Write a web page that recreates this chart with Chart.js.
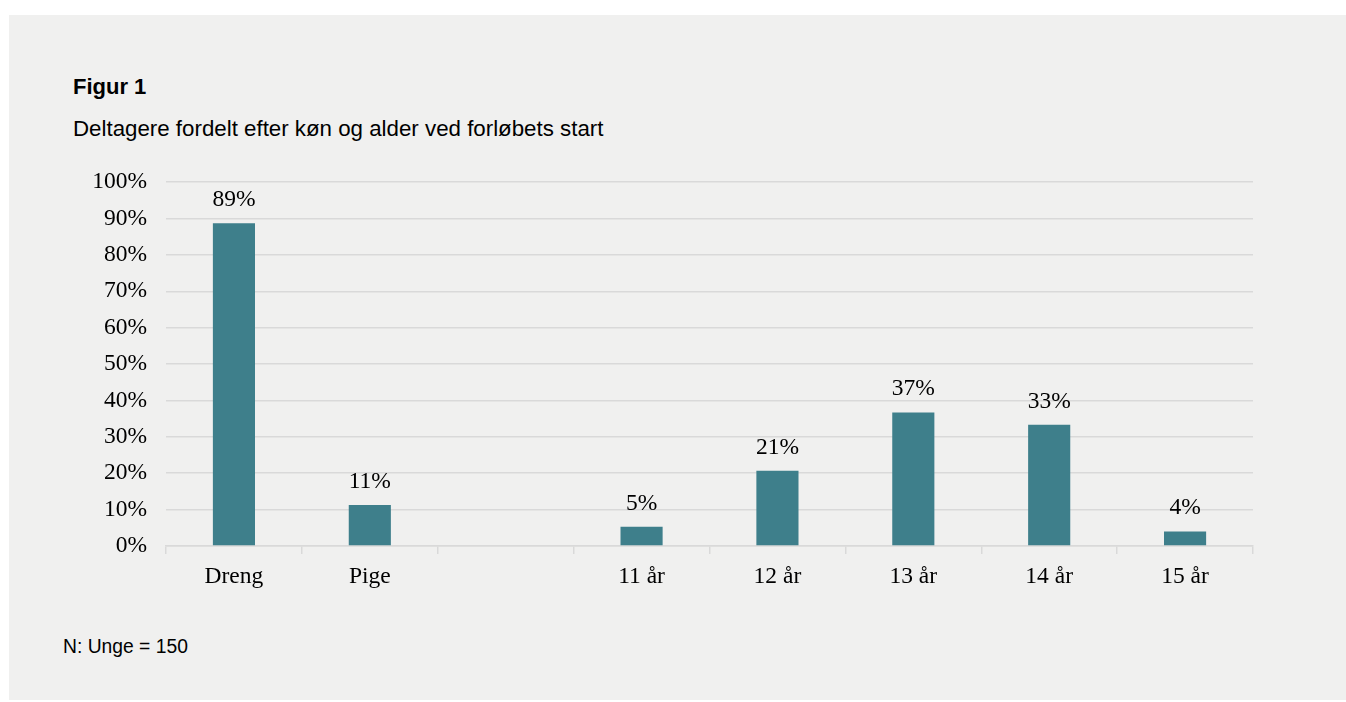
<!DOCTYPE html>
<html>
<head>
<meta charset="utf-8">
<script src="https://cdn.jsdelivr.net/npm/chart.js@4"></script>
<style>
  html, body { margin: 0; padding: 0; background: #ffffff; }
  #panel { position: absolute; left: 9px; top: 15px; width: 1337px; height: 685px; background: #f0f0ef; }
  .txt { position: absolute; font-family: "Liberation Sans", Arial, sans-serif; color: #000; white-space: nowrap; }
  #title { left: 64px; top: 59px; font-size: 22px; font-weight: bold; }
  #subtitle { left: 64px; top: 101px; font-size: 22.3px; }
  #note { left: 54px; top: 621px; font-size: 19.3px; }
  #wrap { position: absolute; left: 0px; top: 134px; width: 1300px; height: 450px; }
</style>
</head>
<body>
<div id="panel">
  <div class="txt" id="title">Figur 1</div>
  <div class="txt" id="subtitle">Deltagere fordelt efter køn og alder ved forløbets start</div>
  <div id="wrap"><canvas id="chart"></canvas></div>
  <div class="txt" id="note">N: Unge = 150</div>
</div>
<script>
"use strict";

// data (share of 150 participants)
var categories = ["Dreng", "Pige", "", "11 år", "12 år", "13 år", "14 år", "15 år"];
var shares = [88.7, 11.3, null, 5.3, 20.7, 36.7, 33.3, 4.0];
var yTicks = [0, 10, 20, 30, 40, 50, 60, 70, 80, 90, 100];

var serif = "'Liberation Serif', 'Times New Roman', serif";
var gridColor = "#d9d9d9";

var valueLabels = {
    id: "valueLabels",
    afterDatasetsDraw: function(chart) {
        var ctx = chart.ctx;
        var meta = chart.getDatasetMeta(0);
        ctx.save();
        ctx.font = "23.5px " + serif;
        ctx.fillStyle = "#000";
        ctx.textAlign = "center";
        ctx.textBaseline = "alphabetic";
        meta.data.forEach(function(bar, i) {
            var v = shares[i];
            if (v === null) return;
            ctx.fillText(Math.round(v) + "%", bar.x, bar.y - 17);
        });
        ctx.restore();
    }
};

var createChart = function(chartElement, type, labels, data, options) {
    new Chart(chartElement, {
        type: type,
        data: {
            labels: labels,
            datasets: data
        },
        options: options,
        plugins: [valueLabels]
    });
};

createChart(document.getElementById("chart"), "bar", categories, [{
    data: shares,
    backgroundColor: "#3e7f8b",
    categoryPercentage: 1,
    barPercentage: 0.31
}], {
    responsive: true,
    maintainAspectRatio: false,
    animation: false,
    layout: { padding: { top: 32, right: 56, left: 0, bottom: 0 } },
    plugins: { legend: { display: false }, tooltip: { enabled: false } },
    scales: {
        x: {
            afterFit: function(s) { s.height = 53; },
            grid: { display: true, drawOnChartArea: false, drawTicks: true, offset: true, tickLength: 8, color: gridColor, lineWidth: 1.5 },
            border: { display: true, color: gridColor, width: 1.5 },
            ticks: { color: "#000", font: { family: serif, size: 23.5 }, padding: 9 }
        },
        y: {
            min: 0,
            max: 100,
            afterFit: function(s) { s.width = 157; },
            afterBuildTicks: function(s) { s.ticks = yTicks.map(function(v) { return { value: v }; }); },
            grid: { drawTicks: false, color: gridColor, lineWidth: 1.5 },
            border: { display: false },
            ticks: { color: "#000", font: { family: serif, size: 23.5 }, padding: 19, callback: function(v) { return v + "%"; } }
        }
    }
});
</script>
</body>
</html>
